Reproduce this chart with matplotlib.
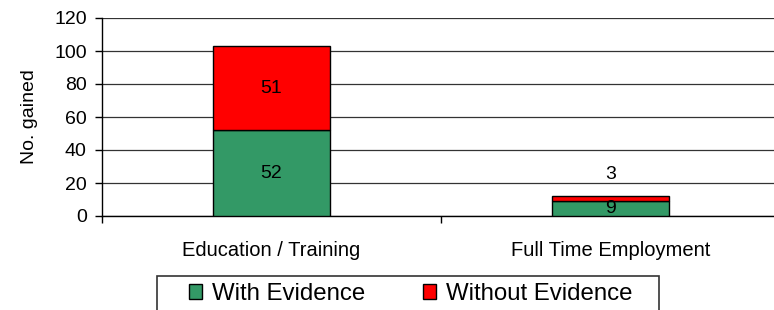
import matplotlib
matplotlib.use("Agg")
from matplotlib import pyplot as plt
from matplotlib.patches import Rectangle

plt.rcParams['font.family'] = ['Liberation Sans', 'DejaVu Sans']

categories = ['Education / Training', 'Full Time Employment']
with_evidence = [52, 9]
without_evidence = [51, 3]
series_names = ['With Evidence', 'Without Evidence']
yticks = [0, 20, 40, 60, 80, 100, 120]

W, H = 774, 310
f = plt.figure(figsize=(W / 100, H / 100), dpi=100)
# plot area runs a little past the right edge, like the original
ax1 = f.add_axes([102 / W, 1 - 216 / H, (780 - 102) / W, (216 - 18) / H])

x = list(range(len(categories)))
bw = 0.345
b1 = ax1.bar(x, with_evidence, bw, color='#339966', edgecolor='black', lw=1, zorder=3,
             label=series_names[0])
b2 = ax1.bar(x, without_evidence, bw, bottom=with_evidence, color='#ff0000',
             edgecolor='black', lw=1, zorder=3, label=series_names[1])

# value labels, centred in the segments (small one pushed above the bar)
for i in x:
    ax1.text(i, with_evidence[i] / 2, str(with_evidence[i]), ha='center', va='center',
             fontsize=14, zorder=4)
    top = with_evidence[i] + without_evidence[i] / 2
    if without_evidence[i] < 10:
        top = with_evidence[i] + without_evidence[i] + 13
    ax1.text(i, top, str(without_evidence[i]), ha='center', va='center',
             fontsize=14, zorder=4)

ax1.set_xlim(-0.5, len(categories) - 0.5)
ax1.set_ylim(0, 120)
ax1.set_yticks(yticks)
ax1.yaxis.grid(True, color='#333333', lw=0.9, zorder=0)
ax1.tick_params(axis='y', length=5, width=1, pad=6, labelsize=14)

ax1.set_xticks([-0.5, 0.5, 1.5])
ax1.set_xticklabels([])
ax1.set_xticks(x, minor=True)
ax1.set_xticklabels(categories, minor=True)
ax1.tick_params(axis='x', which='major', length=5, width=1)
ax1.tick_params(axis='x', which='minor', length=0, pad=18, labelsize=14.5)

for s in ['top', 'right']:
    ax1.spines[s].set_visible(False)
ax1.spines['left'].set_linewidth(1)
ax1.spines['bottom'].set_linewidth(1)

ax1.set_ylabel('No. gained', fontsize=14)
ax1.yaxis.set_label_coords(-64 / (780 - 102), 0.5)

# legend box
f.patches.append(Rectangle((157 / W, -0.1), (659 - 157) / W, 0.1 + (1 - 276 / H),
                           transform=f.transFigure, fill=False, edgecolor='#333333',
                           lw=1.2))
f.legend(handles=[b1, b2], loc='center left', bbox_to_anchor=(189 / W, 1 - 294 / H),
         ncol=2, frameon=False, fontsize=17.3, handlelength=0.54, handleheight=0.54,
         handletextpad=0.42, columnspacing=2.4, borderpad=0, borderaxespad=0)

f.savefig('out.png', dpi=100)
